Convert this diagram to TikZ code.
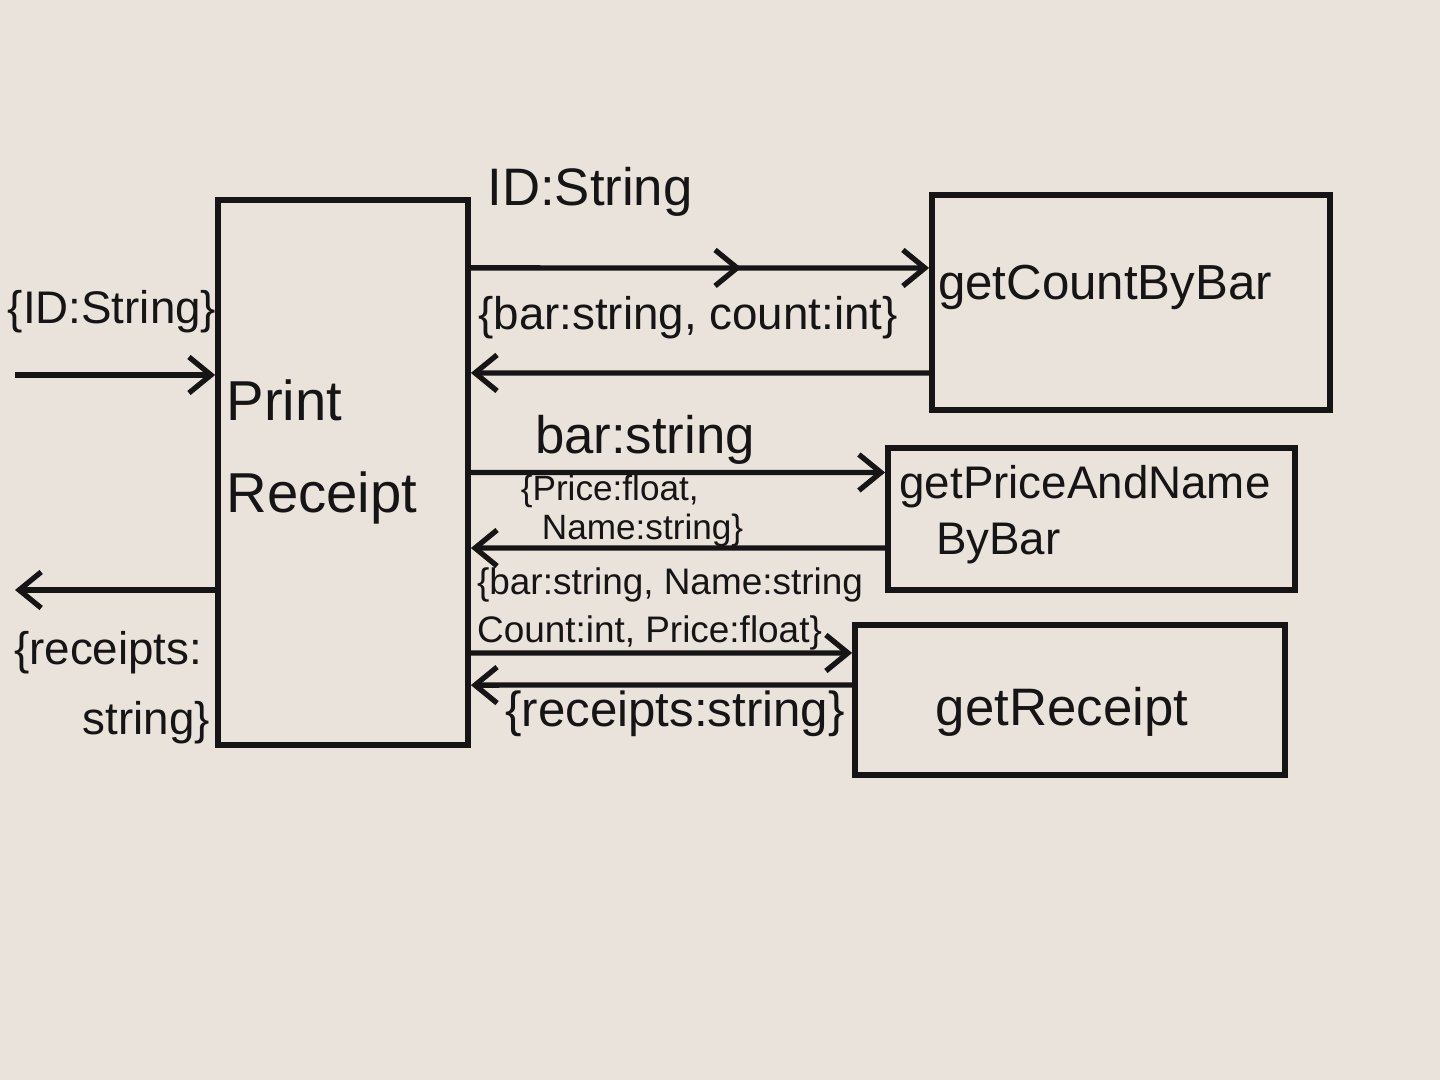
\documentclass[tikz,border=0pt]{standalone}
\usepackage{fontspec}
\setmainfont{Liberation Sans}
\usetikzlibrary{arrows.meta,decorations.markings}
\definecolor{paper}{RGB}{233,227,219}
\definecolor{ink}{RGB}{22,20,20}
\newcommand\fsz[2]{\fontsize{#1}{#2}\selectfont}
\begin{document}
\begin{tikzpicture}[x=0.01cm,y=-0.01cm,color=ink,
  box/.style={draw=ink,line width=1.6pt,inner sep=0pt},
  txt/.style={text=ink,inner sep=0pt},
  arr/.style={draw=ink,line width=1.5pt,-{Straight Barb[length=2.2mm,width=3.6mm,line width=1.5pt]}},
  midarr/.style={postaction={decorate},decoration={markings,mark=at position 0.59 with {\arrow{Straight Barb[length=2.2mm,width=3.6mm,line width=1.5pt]}}}}]
\fill[paper] (0,0) rectangle (1440,1080);
\useasboundingbox (0,0) rectangle (1440,1080);

% boxes
\node[box,minimum width=2.50cm,minimum height=5.45cm] (pr) at (343,472.5) {};
\node[txt,align=left,font=\fsz{16}{26}] (prl) at (322,452) {Print\\Receipt};

\node[box,minimum width=3.98cm,minimum height=2.15cm] (cb) at (1131,302.5) {};
\node[txt,font=\fsz{14}{17}] (cbl) at (1105,287) {getCountByBar};

\node[box,minimum width=4.07cm,minimum height=1.42cm] (pn) at (1091.5,519) {};
\node[txt,align=left,font=\fsz{13}{16}] (pnl) at (1085,515) {getPriceAndName\\\hspace*{0.8em}ByBar};

\node[box,minimum width=4.30cm,minimum height=1.50cm] (gr) at (1070,700) {};
\node[txt,font=\fsz{15}{18}] (grl) at (1062,712) {getReceipt};

% free ends
\coordinate (inL) at (15,375);
\coordinate (outL) at (15,590);

% connectors
\draw[arr] (inL) -- (inL -| pr.west);
\draw[arr] (outL -| pr.west) -- (outL);
\draw[arr,midarr] ([yshift=20.45mm]pr.east) -- ([yshift=3.45mm]cb.west);
\draw[arr] ([yshift=-7.05mm]cb.west) -- ([yshift=9.95mm]pr.east);
\draw[arr] (pr.east) -- ([yshift=4.65mm]pn.west);
\draw[arr] ([yshift=-2.9mm]pn.west) -- ([yshift=-7.55mm]pr.east);
\draw[arr] ([yshift=-18.05mm]pr.east) -- ([yshift=4.7mm]gr.west);
\draw[arr] ([yshift=1.5mm]gr.west) -- ([yshift=-21.25mm]pr.east);

% labels
\node[txt,font=\fsz{13}{16}] (l1) at (112,312) {\{ID:String\}};
\node[txt,align=left,font=\fsz{13}{20}] (l2) at (112,688) {\{receipts:\\\hspace*{1.5em}string\}};
\node[txt,font=\fsz{15}{18}] (l3) at (590,192) {ID:String};
\node[txt,font=\fsz{13}{16}] (l4) at (688,318) {\{bar:string, count:int\}};
\node[txt,font=\fsz{15}{18}] (l5) at (645,440) {bar:string};
\node[txt,align=left,font=\fsz{10}{11}] (l6) at (632,511) {\{Price:float,\\\hspace*{0.6em}Name:string\}};
\node[txt,align=left,font=\fsz{10.5}{13.4}] (l7) at (670,609) {\{bar:string, Name:string\\Count:int, Price:float\}};
\node[txt,font=\fsz{14}{17}] (l8) at (675,714) {\{receipts:string\}};
\end{tikzpicture}
\end{document}
